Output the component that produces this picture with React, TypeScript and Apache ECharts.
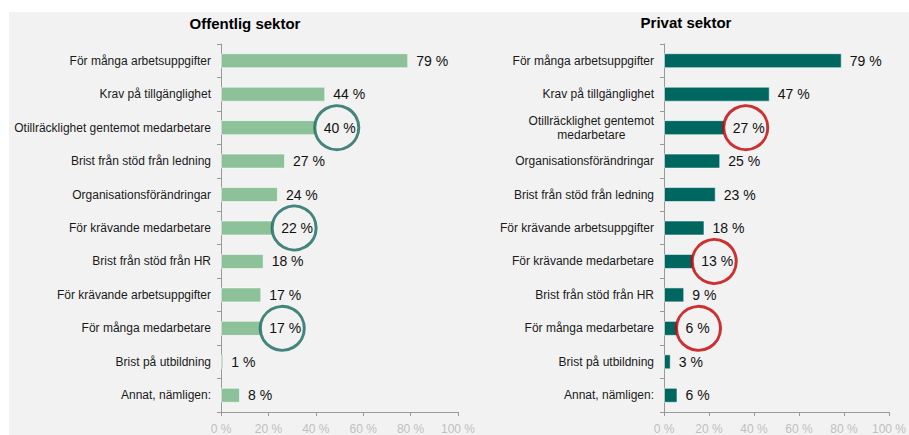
import React, { useEffect, useRef } from "react";
import * as echarts from "echarts";

const leftTitle = "Offentlig sektor";
const rightTitle = "Privat sektor";

const leftCategories = [
  "För många arbetsuppgifter",
  "Krav på tillgänglighet",
  "Otillräcklighet gentemot medarbetare",
  "Brist från stöd från ledning",
  "Organisationsförändringar",
  "För krävande medarbetare",
  "Brist från stöd från HR",
  "För krävande arbetsuppgifter",
  "För många medarbetare",
  "Brist på utbildning",
  "Annat, nämligen:",
];
const leftValues = [79, 44, 40, 27, 24, 22, 18, 17, 17, 1, 8];

const rightCategories = [
  "För många arbetsuppgifter",
  "Krav på tillgänglighet",
  "Otillräcklighet gentemot\nmedarbetare",
  "Organisationsförändringar",
  "Brist från stöd från ledning",
  "För krävande arbetsuppgifter",
  "För krävande medarbetare",
  "Brist från stöd från HR",
  "För många medarbetare",
  "Brist på utbildning",
  "Annat, nämligen:",
];
const rightValues = [79, 47, 27, 25, 23, 18, 13, 9, 6, 3, 6];

const leftHighlighted = [
  "Otillräcklighet gentemot medarbetare",
  "För krävande medarbetare",
  "För många medarbetare",
];
const rightHighlighted = [
  "Otillräcklighet gentemot\nmedarbetare",
  "För krävande medarbetare",
  "För många medarbetare",
];

const xTicks = [0, 20, 40, 60, 80, 100];

const FONT = "'Liberation Sans', Arial, sans-serif";

export default function App() {
  const ref = useRef<HTMLDivElement>(null);

  useEffect(() => {
    if (!ref.current) return;
    const chart = echarts.init(ref.current, undefined, { renderer: "svg" });

    const catAxis = (gridIndex: number, data: string[]) => ({
      type: "category",
      gridIndex,
      data,
      inverse: true,
      axisLine: { show: true, lineStyle: { color: "#999999", width: 1 } },
      axisTick: { show: true, length: 4, lineStyle: { color: "#999999" } },
      axisLabel: {
        margin: 10,
        fontFamily: FONT,
        fontSize: 12,
        color: "#1a1a1a",
        lineHeight: 14,
        formatter: (v: string) =>
          v
            .split("\n")
            .map((l) => "{c|" + l + "}")
            .join("\n"),
        rich: {
          c: {
            align: "center",
            fontFamily: FONT,
            fontSize: 12,
            color: "#1a1a1a",
            lineHeight: 14,
          },
        },
      },
      splitLine: { show: false },
    });

    const valAxis = (gridIndex: number) => ({
      type: "value",
      gridIndex,
      min: xTicks[0],
      max: xTicks[xTicks.length - 1],
      interval: xTicks[1] - xTicks[0],
      axisLine: { show: true, lineStyle: { color: "#999999", width: 1 } },
      axisTick: { show: true, length: 4, lineStyle: { color: "#999999" } },
      axisLabel: {
        margin: 11,
        fontFamily: FONT,
        fontSize: 12,
        color: "#bfbfbf",
        formatter: "{value} %",
      },
      splitLine: { show: false },
    });

    const barSeries = (
      idx: number,
      values: number[],
      color: string
    ) => ({
      type: "bar",
      xAxisIndex: idx,
      yAxisIndex: idx,
      data: values,
      barWidth: 15,
      itemStyle: {
        color,
        borderColor: "rgba(255,255,255,0.55)",
        borderWidth: 1,
      },
      label: {
        show: true,
        position: "right",
        distance: 8,
        formatter: "{c} %",
        fontFamily: FONT,
        fontSize: 14,
        color: "#111",
      },
      z: 2,
    });

    const circleSeries = (
      idx: number,
      cats: string[],
      values: number[],
      highlighted: string[],
      color: string
    ) => ({
      type: "scatter",
      xAxisIndex: idx,
      yAxisIndex: idx,
      data: highlighted.map((h) => [values[cats.indexOf(h)], h]),
      symbol: "circle",
      symbolSize: 44,
      symbolOffset: [21, 0],
      itemStyle: {
        color: "rgba(0,0,0,0)",
        borderColor: color,
        borderWidth: 3,
      },
      silent: true,
      clip: false,
      z: 5,
    });

    chart.setOption({
      animation: false,
      backgroundColor: "#ffffff",
      textStyle: { fontFamily: FONT },
      graphic: [
        {
          type: "rect",
          silent: true,
          z: -10,
          shape: { x: 9, y: 12, width: 900, height: 430 },
          style: { fill: "#f2f2f2" },
        },
        {
          type: "text",
          x: 245,
          y: 23,
          style: {
            text: leftTitle,
            fontFamily: FONT,
            fontSize: 15,
            fontWeight: "bold",
            fill: "#000",
            align: "center",
            verticalAlign: "middle",
          },
        },
        {
          type: "text",
          x: 686,
          y: 22,
          style: {
            text: rightTitle,
            fontFamily: FONT,
            fontSize: 15,
            fontWeight: "bold",
            fill: "#000",
            align: "center",
            verticalAlign: "middle",
          },
        },
      ],
      grid: [
        { left: 221, right: 451, top: 44, bottom: 12, containLabel: false },
        { left: 664, right: 16, top: 44, bottom: 12, containLabel: false },
      ],
      xAxis: [valAxis(0), valAxis(1)],
      yAxis: [catAxis(0, leftCategories), catAxis(1, rightCategories)],
      series: [
        barSeries(0, leftValues, "#8dc199"),
        barSeries(1, rightValues, "#006760"),
        circleSeries(0, leftCategories, leftValues, leftHighlighted, "#16695d"),
        circleSeries(1, rightCategories, rightValues, rightHighlighted, "#c00000"),
      ],
    });

    return () => chart.dispose();
  }, []);

  return (
    <div
      style={{
        position: "fixed",
        left: 0,
        top: 0,
        width: 909,
        height: 435,
        background: "#fff",
      }}
    >
      <div ref={ref} style={{ width: 909, height: 435 }} />
    </div>
  );
}
